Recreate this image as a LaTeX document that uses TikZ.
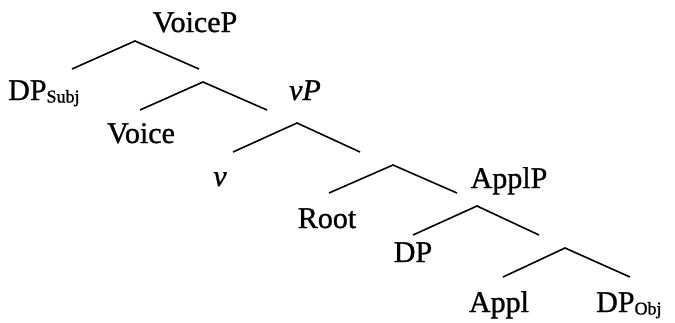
\documentclass[tikz,border=0pt]{standalone}
\usepackage{fontspec}
\setmainfont{Liberation Serif}
\newfontfamily\lblfont{Liberation Serif}[BoldFont={Liberation Serif}, BoldFeatures={FakeBold=1.0}, BoldItalicFont={Liberation Serif Italic}, BoldItalicFeatures={FakeBold=1.0}]
\newcommand\mysubtxt[1]{\raisebox{-2.5pt}{\fontsize{18}{18}\selectfont #1}}
\begin{document}
\begin{tikzpicture}[x=1pt,y=-1pt,
  lbl/.style={anchor=base, inner sep=0pt, font=\lblfont\bfseries\fontsize{30}{32}\selectfont},
  br/.style={line width=1.6pt}]
\useasboundingbox (0,0) rectangle (675,322);
% labels
\node[lbl] (voicep) at (195,32) {VoiceP};
\node[lbl, anchor=base west] (dpsubj) at (8,100) {DP\mysubtxt{Subj}};
\node[lbl] (voice) at (141,143) {Voice};
\node[lbl] (vp) at (305,100) {\itshape vP};
\node[lbl] (v) at (220,186) {\itshape v};
\node[lbl] (applp) at (509,188) {ApplP};
\node[lbl] (root) at (327,228) {Root};
\node[lbl] (dp) at (413,262) {DP};
\node[lbl] (appl) at (499,312) {Appl};
\node[lbl, anchor=base west] (dpobj) at (596,312) {DP\mysubtxt{Obj}};
% branch points
\coordinate (a1) at (135,41);  \coordinate (l1) at (72,69);   \coordinate (r1) at (199,69);
\coordinate (a2) at (203,82);  \coordinate (l2) at (140,110); \coordinate (r2) at (267,110);
\coordinate (a3) at (297,123); \coordinate (l3) at (233,152); \coordinate (r3) at (360,152);
\coordinate (a4) at (393,165); \coordinate (l4) at (329,193); \coordinate (r4) at (457,193);
\coordinate (a5) at (477,206); \coordinate (l5) at (413,235); \coordinate (r5) at (539,235);
\coordinate (a6) at (565,248); \coordinate (l6) at (503,277); \coordinate (r6) at (630,277);
\draw[br] (l1) -- (a1) -- (r1);
\draw[br] (l2) -- (a2) -- (r2);
\draw[br] (l3) -- (a3) -- (r3);
\draw[br] (l4) -- (a4) -- (r4);
\draw[br] (l5) -- (a5) -- (r5);
\draw[br] (l6) -- (a6) -- (r6);
\end{tikzpicture}
\end{document}
